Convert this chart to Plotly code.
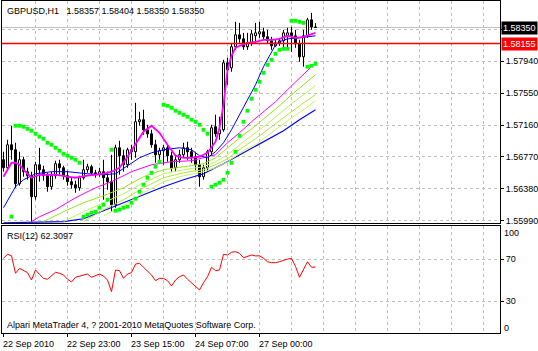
import plotly.graph_objects as go

# ---------------- data ----------------
bars = list(range(79))  # H1 bars, 22 Sep 07:00 ... 27 Sep 14:00

opens = [1.56736, 1.56638, 1.56919, 1.56858, 1.56443, 1.56736, 1.56590, 1.56541, 1.56285, 1.56675,
         1.56614, 1.56541, 1.56407, 1.56541, 1.56687, 1.56638, 1.56541, 1.56468, 1.56431, 1.56394,
         1.56516, 1.56614, 1.56651, 1.56577, 1.56553, 1.56590, 1.56516, 1.56468, 1.56187, 1.56882,
         1.56785, 1.56675, 1.56858, 1.56834, 1.57200, 1.57224, 1.57102, 1.57053, 1.56919, 1.56797,
         1.56846, 1.56882, 1.56785, 1.56638, 1.56736, 1.56797, 1.56882, 1.56834, 1.56773, 1.56675,
         1.56529, 1.56638, 1.56834, 1.57139, 1.57053, 1.57102, 1.57919, 1.57858, 1.58115, 1.58261,
         1.58212, 1.58115, 1.58163, 1.58249, 1.58273, 1.58298, 1.58237, 1.58188, 1.58127, 1.58163,
         1.58188, 1.58237, 1.58285, 1.58249, 1.58151, 1.57993, 1.58249, 1.58444, 1.58357]
highs = [1.56834, 1.56980, 1.57151, 1.56943, 1.56834, 1.56773, 1.56638, 1.56590, 1.56712, 1.56882,
         1.56663, 1.56577, 1.56590, 1.56724, 1.56736, 1.56663, 1.56602, 1.56516, 1.56480, 1.56541,
         1.56736, 1.56687, 1.56675, 1.56614, 1.56638, 1.56736, 1.56590, 1.56797, 1.56919, 1.56968,
         1.56858, 1.56882, 1.56919, 1.57431, 1.57322, 1.57346, 1.57163, 1.57102, 1.56980, 1.56882,
         1.56919, 1.56919, 1.56834, 1.56785, 1.56858, 1.56943, 1.56956, 1.56882, 1.56821, 1.56736,
         1.56675, 1.56858, 1.57163, 1.57285, 1.57261, 1.57956, 1.57980, 1.58151, 1.58420, 1.58407,
         1.58285, 1.58285, 1.58322, 1.58407, 1.58420, 1.58346, 1.58322, 1.58237, 1.58200, 1.58212,
         1.58322, 1.58346, 1.58359, 1.58322, 1.58200, 1.58322, 1.58468, 1.58529, 1.58404]
lows = [1.56590, 1.56614, 1.56736, 1.56394, 1.56419, 1.56529, 1.56492, 1.55980, 1.56248, 1.56468,
        1.56480, 1.56346, 1.56370, 1.56504, 1.56553, 1.56492, 1.56419, 1.56382, 1.56333, 1.56358,
        1.56492, 1.56577, 1.56541, 1.56516, 1.56529, 1.56248, 1.56370, 1.56102, 1.56150, 1.56553,
        1.56590, 1.56638, 1.56736, 1.56760, 1.57151, 1.57041, 1.57004, 1.56882, 1.56699, 1.56736,
        1.56675, 1.56712, 1.56590, 1.56590, 1.56699, 1.56760, 1.56736, 1.56699, 1.56614, 1.56407,
        1.56492, 1.56590, 1.56785, 1.57017, 1.56980, 1.57078, 1.57651, 1.57810, 1.58078, 1.58163,
        1.58078, 1.58078, 1.58127, 1.58163, 1.58224, 1.58200, 1.58151, 1.58078, 1.58115, 1.58127,
        1.58115, 1.58102, 1.58054, 1.58102, 1.57932, 1.57871, 1.58224, 1.58322, 1.58350]
closes = [1.56638, 1.56919, 1.56858, 1.56443, 1.56736, 1.56590, 1.56541, 1.56285, 1.56675, 1.56614,
          1.56541, 1.56407, 1.56541, 1.56687, 1.56638, 1.56541, 1.56468, 1.56431, 1.56394, 1.56516,
          1.56614, 1.56651, 1.56577, 1.56553, 1.56590, 1.56516, 1.56468, 1.56187, 1.56882, 1.56785,
          1.56675, 1.56858, 1.56834, 1.57200, 1.57224, 1.57102, 1.57053, 1.56919, 1.56797, 1.56846,
          1.56882, 1.56785, 1.56638, 1.56736, 1.56797, 1.56882, 1.56834, 1.56773, 1.56675, 1.56529,
          1.56638, 1.56834, 1.57126, 1.57053, 1.57102, 1.57919, 1.57834, 1.58115, 1.58261, 1.58212,
          1.58115, 1.58163, 1.58273, 1.58285, 1.58298, 1.58237, 1.58188, 1.58127, 1.58163, 1.58188,
          1.58285, 1.58285, 1.58249, 1.58151, 1.57993, 1.58249, 1.58444, 1.58357, 1.58350]

# fast magenta average
ma_fast_x = [0, 2, 3, 4, 5, 7, 9, 11, 13, 16, 18, 21, 23, 25, 27, 29, 31, 33, 35, 37, 39, 41, 43, 45,
             47, 49, 51, 53, 54, 55, 56, 57, 58, 59, 61, 63, 65, 67, 69, 71, 73, 75, 77, 78]
ma_fast = [1.56529, 1.56699, 1.56699, 1.56675, 1.56614, 1.56516, 1.56553, 1.56553, 1.56553, 1.56529,
           1.56516, 1.56541, 1.56553, 1.56565, 1.56590, 1.56638, 1.56773, 1.56919, 1.57078, 1.57151,
           1.57065, 1.56919, 1.56785, 1.56760, 1.56760, 1.56773, 1.56821, 1.56956, 1.57126, 1.57407,
           1.57834, 1.58005, 1.58102, 1.58127, 1.58163, 1.58176, 1.58200, 1.58200, 1.58212, 1.58249,
           1.58224, 1.58237, 1.58273, 1.58285]
# blue average
ma_blue_x = [0, 3, 5, 8, 12, 16, 21, 25, 28, 31, 34, 37, 40, 44, 47, 49, 51, 53, 55, 57, 59, 61, 63,
             65, 66, 67, 68, 69, 71, 74, 78]
ma_blue = [1.56150, 1.56407, 1.56492, 1.56565, 1.56590, 1.56590, 1.56565, 1.56553, 1.56565, 1.56663,
           1.56760, 1.56821, 1.56858, 1.56882, 1.56858, 1.56785, 1.56760, 1.56834, 1.56943, 1.57102,
           1.57285, 1.57468, 1.57651, 1.57871, 1.57956, 1.58054, 1.58139, 1.58176, 1.58212, 1.58224,
           1.58249]
# slow magenta average
ma_slow_x = [7, 9, 13, 18, 23, 27, 32, 37, 42, 47, 51, 53, 56, 59, 62, 65, 68, 71, 74, 78]
ma_slow = [1.55980, 1.56041, 1.56126, 1.56272, 1.56394, 1.56468, 1.56590, 1.56675, 1.56712, 1.56724,
           1.56773, 1.56797, 1.56943, 1.57065, 1.57200, 1.57322, 1.57444, 1.57590, 1.57736, 1.57919]
# yellow-green ribbon
g1_x = [10, 15, 20, 25, 30, 35, 40, 45, 50, 53, 56, 60, 63, 66, 69, 72, 75, 78]
g1 = [1.55980, 1.56102, 1.56211, 1.56297, 1.56394, 1.56529, 1.56614, 1.56651, 1.56687, 1.56760,
      1.56882, 1.57041, 1.57151, 1.57273, 1.57395, 1.57529, 1.57651, 1.57773]
g2_x = [15, 20, 25, 30, 35, 40, 45, 50, 53, 56, 60, 63, 66, 69, 72, 75, 78]
g2 = [1.55980, 1.56102, 1.56211, 1.56321, 1.56455, 1.56565, 1.56614, 1.56651, 1.56712, 1.56797,
      1.56956, 1.57065, 1.57175, 1.57297, 1.57419, 1.57529, 1.57639]
g3_x = [20, 25, 30, 35, 40, 45, 50, 53, 56, 60, 63, 66, 69, 72, 75, 78]
g3 = [1.55980, 1.56126, 1.56248, 1.56394, 1.56516, 1.56577, 1.56614, 1.56675, 1.56748, 1.56895,
      1.56992, 1.57102, 1.57212, 1.57322, 1.57431, 1.57529]
g4_x = [25, 30, 35, 40, 45, 50, 53, 56, 60, 63, 66, 69, 72, 75, 78]
g4 = [1.56053, 1.56175, 1.56333, 1.56468, 1.56541, 1.56590, 1.56638, 1.56712, 1.56846, 1.56919,
      1.57029, 1.57139, 1.57248, 1.57346, 1.57456]
# lower (slowest) blue average
ma_low_x = [0, 15, 20, 25, 30, 35, 40, 45, 50, 55, 60, 66, 70, 74, 78]
ma_low = [1.55967, 1.55980, 1.56016, 1.56114, 1.56211, 1.56309, 1.56407, 1.56492, 1.56565, 1.56687,
          1.56821, 1.56980, 1.57090, 1.57224, 1.57346]
# parabolic SAR dots
sar_x = [2] + list(range(3, 79))
sar = [1.56041,
       1.57151, 1.57151, 1.57139, 1.57114, 1.57090, 1.57053, 1.57017, 1.56992, 1.56943, 1.56919,
       1.56882, 1.56846, 1.56809, 1.56785, 1.56760, 1.56736, 1.56699,
       1.56041, 1.56065, 1.56089, 1.56102, 1.56150, 1.56187, 1.56248,
       1.56858,
       1.56114, 1.56126, 1.56150, 1.56163, 1.56211, 1.56260, 1.56346, 1.56431, 1.56516, 1.56577,
       1.56651, 1.56712,
       1.57407, 1.57395, 1.57370, 1.57334, 1.57309, 1.57285, 1.57261, 1.57224, 1.57200, 1.57163,
       1.57102, 1.57053,
       1.56407, 1.56431, 1.56455, 1.56492, 1.56577, 1.56699, 1.56834, 1.57029, 1.57200, 1.57334,
       1.57480, 1.57590, 1.57688, 1.57797, 1.57895, 1.57956, 1.58029, 1.58078, 1.58090, 1.58090,
       1.58432, 1.58432, 1.58420, 1.58407,
       1.57871, 1.57883, 1.57907]
# RSI(12)
rsi = [70.7, 74.5, 73.1, 56.4, 61.1, 58.9, 57.0, 50.0, 59.5, 55.4,
       51.6, 50.7, 53.8, 57.3, 56.4, 54.8, 50.7, 48.1, 52.6, 53.5,
       54.8, 55.7, 52.6, 53.8, 55.7, 53.8, 50.0, 38.9, 59.5, 58.9,
       51.6, 55.7, 57.0, 65.2, 65.9, 62.1, 58.9, 54.8, 49.3, 51.6,
       51.6, 49.3, 44.3, 50.0, 53.1, 54.8, 50.7, 47.4, 44.0, 40.5,
       47.4, 53.1, 62.1, 58.9, 59.5, 74.5, 73.8, 76.4, 77.0, 75.4,
       71.2, 72.2, 73.8, 72.9, 73.1, 70.7, 67.4, 66.5, 66.5, 67.4,
       69.0, 70.0, 70.5, 63.0, 52.6, 59.5, 67.4, 62.1, 62.3097]

time_ticks = [0, 16, 32, 48, 64]
time_labels = ["22 Sep 2010", "22 Sep 23:00", "23 Sep 15:00", "24 Sep 07:00", "27 Sep 00:00"]
grid_bars = list(range(8, 121, 8))
price_ticks = [1.55990, 1.56380, 1.56770, 1.57160, 1.57550, 1.57940, 1.58330]
price_labels = ["1.55990", "1.56380", "1.56770", "1.57160", "1.57550", "1.57940", ""]
rsi_ticks = [30, 70]
rsi_label_text = ["30", "70"]
bid_price = 1.58350
line_price = 1.58155
title_text = "GBPUSD,H1\u00a0\u00a0 1.58357 1.58404 1.58350 1.58350"
rsi_text = "RSI(12) 62.3097"
footer_text = "Alpari MetaTrader 4, ? 2001-2010 MetaQuotes Software Corp."

# ---------------- layout geometry ----------------
W, H = 538, 351
ML, MR, MT, MB = 2, 38, 1, 18
PW, PH = W - ML - MR, H - MT - MB
MAIN_BOT, RSI_TOP = 223, 226


def fx(px):
    return (px - ML) / PW


def fy(py):
    return (H - MB - py) / PH


FONT = "Liberation Sans"
GRID = "#C0C0C0"
DASH = "3px,3px"

fig = go.Figure()

# candle bodies
body_base = [min(o, c) for o, c in zip(opens, closes)]
body_h = [max(abs(c - o), 0.000004) for o, c in zip(opens, closes)]
body_col = ["white" if c >= o else "black" for o, c in zip(opens, closes)]
fig.add_trace(go.Bar(x=bars, y=body_h, base=body_base, width=0.5,
                     marker=dict(color=body_col, line=dict(color="black", width=1)),
                     xaxis="x", yaxis="y", hoverinfo="skip"))
# wicks
wx, wy = [], []
for i, o, h, l, c in zip(bars, opens, highs, lows, closes):
    wx += [i, i, None, i, i, None]
    wy += [h, max(o, c), None, min(o, c), l, None]
fig.add_trace(go.Scatter(x=wx, y=wy, mode="lines", line=dict(color="black", width=1),
                         xaxis="x", yaxis="y", hoverinfo="skip"))


def add_line(xs, ys, color, width):
    fig.add_trace(go.Scatter(x=xs, y=ys, mode="lines", line=dict(color=color, width=width),
                             xaxis="x", yaxis="y", hoverinfo="skip"))


add_line(ma_low_x, ma_low, "#0000FF", 1.2)
add_line(g4_x, g4, "#C6F560", 1)
add_line(g3_x, g3, "#ADEB3C", 1)
add_line(g2_x, g2, "#BDF55A", 1)
add_line(g1_x, g1, "#96E619", 1)
add_line(ma_slow_x, ma_slow, "#FF00FF", 1)
add_line(ma_blue_x, ma_blue, "#0000FF", 1)
add_line(ma_fast_x, ma_fast, "#FF00FF", 1.8)

fig.add_trace(go.Scatter(x=sar_x, y=sar, mode="markers",
                         marker=dict(symbol="square", size=3.8, color="#00FF00", line=dict(width=0)),
                         xaxis="x", yaxis="y", hoverinfo="skip"))

fig.add_trace(go.Scatter(x=bars, y=rsi, mode="lines", line=dict(color="#FF0000", width=1),
                         xaxis="x2", yaxis="y2", hoverinfo="skip"))

# horizontal level line (drawn as a trace so it sits above the candles)
fig.add_trace(go.Scatter(x=[-0.375, 124.125], y=[line_price, line_price], mode="lines",
                         line=dict(color="#FF0000", width=1.5), xaxis="x", yaxis="y",
                         hoverinfo="skip"))

axis_common = dict(showline=True, linecolor="black", linewidth=1, mirror=True, zeroline=False,
                   showgrid=True, gridcolor=GRID, griddash=DASH, gridwidth=1, fixedrange=True)

main_dom = [fy(MAIN_BOT), 1.0]
rsi_dom = [0.0, fy(RSI_TOP)]

fig.update_layout(
    width=W, height=H, autosize=False,
    margin=dict(l=ML, r=MR, t=MT, b=MB, pad=0),
    paper_bgcolor="white", plot_bgcolor="white",
    showlegend=False, barmode="overlay", bargap=0,
    font=dict(family=FONT, size=9, color="black"),
    xaxis=dict(domain=[0, 1], anchor="y", range=[-0.375, 124.125], tickmode="array",
               tickvals=grid_bars, showticklabels=False, ticks="", **axis_common),
    xaxis2=dict(domain=[0, 1], anchor="y2", matches="x", range=[-0.375, 124.125], tickmode="array",
                tickvals=grid_bars, showticklabels=False, ticks="", **axis_common),
    yaxis=dict(domain=main_dom, anchor="x", side="right", range=[1.559638, 1.586738],
               tickmode="array", tickvals=price_ticks, ticktext=price_labels,
               ticks="outside", ticklen=3, tickcolor="black",
               tickfont=dict(family=FONT, size=9, color="black"), **axis_common),
    yaxis2=dict(domain=rsi_dom, anchor="x2", side="right", range=[-0.48, 101.43],
                tickmode="array", tickvals=rsi_ticks, ticktext=rsi_label_text,
                ticks="outside", ticklen=3, tickcolor="black",
                tickfont=dict(family=FONT, size=9, color="black"), **axis_common),
)

shapes = [
    dict(type="line", xref="x domain", yref="y", x0=0, x1=1, y0=bid_price, y1=bid_price,
         line=dict(color="#C0C0C0", width=1), layer="below"),
]
for t in time_ticks:
    shapes.append(dict(type="line", xref="x2", yref="paper", x0=t, x1=t, y0=0, y1=-4 / PH,
                       line=dict(color="black", width=1)))
fig.update_layout(shapes=shapes)

ann = [
    dict(text=title_text, xref="paper", yref="paper", x=fx(5), y=fy(10.5), xanchor="left",
         yanchor="middle", showarrow=False, font=dict(family=FONT, size=9, color="black")),
    dict(text=rsi_text, xref="paper", yref="paper", x=fx(5), y=fy(235.5), xanchor="left",
         yanchor="middle", showarrow=False, font=dict(family=FONT, size=9, color="black")),
    dict(text=footer_text, xref="paper", yref="paper", x=fx(5), y=fy(325), xanchor="left",
         yanchor="middle", showarrow=False, font=dict(family=FONT, size=9, color="black")),
    dict(text="100", xref="paper", yref="paper", x=fx(502), y=fy(232.5), xanchor="left",
         yanchor="middle", showarrow=False, font=dict(family=FONT, size=9, color="black")),
    dict(text="0", xref="paper", yref="paper", x=fx(502), y=fy(327.5), xanchor="left",
         yanchor="middle", showarrow=False, font=dict(family=FONT, size=9, color="black")),
    dict(text=f"{bid_price:.5f}", xref="paper", yref="y", x=fx(501), y=bid_price, xanchor="left",
         yanchor="middle", showarrow=False, bgcolor="black", borderpad=1,
         font=dict(family=FONT, size=9, color="white")),
    dict(text=f"{line_price:.5f}", xref="paper", yref="y", x=fx(501), y=line_price, xanchor="left",
         yanchor="middle", showarrow=False, bgcolor="#FF0000", borderpad=1,
         font=dict(family=FONT, size=9, color="white")),
]
for t, lab in zip(time_ticks, time_labels):
    ann.append(dict(text=lab, xref="x2", yref="paper", x=t, y=fy(343.5), xanchor="left",
                    yanchor="middle", xshift=-3, showarrow=False,
                    font=dict(family=FONT, size=9, color="black")))
fig.update_layout(annotations=ann)

fig.write_html("out.html", config={"displayModeBar": False, "staticPlot": True},
               post_script="document.body.style.margin='0px';")
